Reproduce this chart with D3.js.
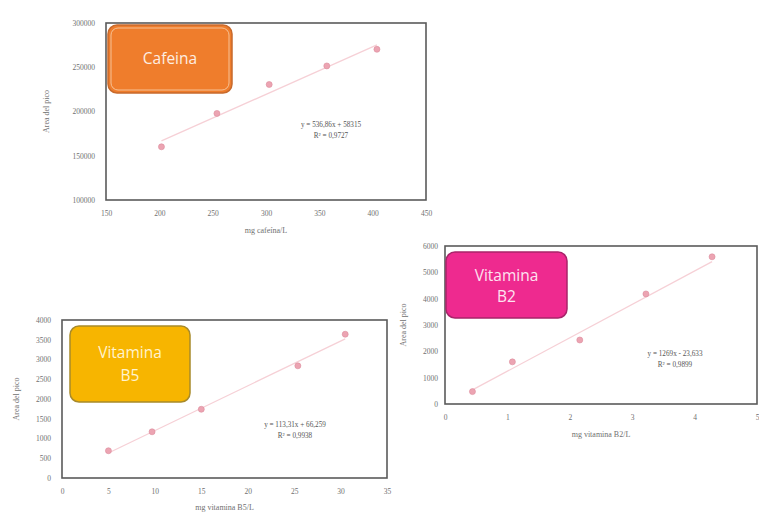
<!DOCTYPE html>
<html>
<head>
<meta charset="utf-8">
<script src="https://cdn.jsdelivr.net/npm/d3@7"></script>
<style>
  body { margin: 0; background: #fff; }
  svg { display: block; }
</style>
</head>
<body>
<svg id="c" width="759" height="513"></svg>
<script>
// ---- Cafeína calibration ----
const cafX = [202, 254, 303, 357, 404];
const cafY = [160100, 197800, 230500, 251500, 270300];
const cafXTicks = [150, 200, 250, 300, 350, 400, 450];
const cafYTicks = [100000, 150000, 200000, 250000, 300000];
const cafFit = [536.86, 58315];
const cafEq = ["y = 536,86x + 58315", "R² = 0,9727"];

// ---- Vitamina B5 calibration ----
const b5X = [5, 9.7, 15, 25.4, 30.5];
const b5Y = [690, 1170, 1740, 2840, 3640];
const b5XTicks = [0, 5, 10, 15, 20, 25, 30, 35];
const b5YTicks = [0, 500, 1000, 1500, 2000, 2500, 3000, 3500, 4000];
const b5Fit = [113.31, 66.259];
const b5Eq = ["y = 113,31x + 66,259", "R² = 0,9938"];

// ---- Vitamina B2 calibration ----
const b2X = [0.44, 1.08, 2.16, 3.22, 4.28];
const b2Y = [470, 1600, 2430, 4180, 5590];
const b2XTicks = [0, 1, 2, 3, 4, 5];
const b2YTicks = [0, 1000, 2000, 3000, 4000, 5000, 6000];
const b2Fit = [1269, -23.633];
const b2Eq = ["y = 1269x - 23,633", "R² = 0,9899"];

const svg = d3.select("#c");
svg.append("rect").attr("width", 759).attr("height", 513).attr("fill", "#fff");

const tickFont = "Liberation Serif, DejaVu Serif, serif";

function drawPanel(p) {
  const g = svg.append("g");
  const x = d3.scaleLinear().domain(d3.extent(p.xTicks)).range([p.left, p.right]);
  const y = d3.scaleLinear().domain(d3.extent(p.yTicks)).range([p.bottom, p.top]);

  // plot area
  g.append("rect")
    .attr("x", p.left).attr("y", p.top)
    .attr("width", p.right - p.left).attr("height", p.bottom - p.top)
    .attr("fill", "#fff").attr("stroke", "#5a5a5a").attr("stroke-width", 1.6);

  // axes (labels only)
  const ax = g.append("g").attr("transform", `translate(0,${p.bottom})`)
    .call(d3.axisBottom(x).tickValues(p.xTicks).tickFormat(d3.format("d")).tickSize(0).tickPadding(p.xPad));
  const ay = g.append("g").attr("transform", `translate(${p.left},0)`)
    .call(d3.axisLeft(y).tickValues(p.yTicks).tickFormat(d3.format("d")).tickSize(0).tickPadding(p.yPad));
  [ax, ay].forEach(a => {
    a.select(".domain").remove();
    a.selectAll("text").attr("font-family", tickFont).attr("font-size", 7.5).attr("fill", "#707070");
  });

  // axis titles
  g.append("text")
    .attr("x", (p.left + p.right) / 2).attr("y", p.xTitleY)
    .attr("text-anchor", "middle").attr("font-family", tickFont).attr("font-size", 8)
    .attr("fill", "#707070").text(p.xTitle);
  g.append("text")
    .attr("transform", `translate(${p.yTitleX},${(p.top + p.bottom) / 2}) rotate(-90)`)
    .attr("text-anchor", "middle").attr("font-family", tickFont).attr("font-size", 8)
    .attr("fill", "#707070").text("Area del pico");

  // linear trendline
  const [m, b] = p.fit;
  const xs = d3.extent(p.xs);
  g.append("line")
    .attr("x1", x(xs[0])).attr("y1", y(m * xs[0] + b))
    .attr("x2", x(xs[1])).attr("y2", y(m * xs[1] + b))
    .attr("stroke", "#f6d0d6").attr("stroke-width", 1.3);

  // data points
  g.selectAll("circle.pt").data(p.xs.map((v, i) => [v, p.ys[i]]))
    .join("circle").attr("class", "pt")
    .attr("cx", d => x(d[0])).attr("cy", d => y(d[1])).attr("r", 3)
    .attr("fill", "#eca4b2").attr("stroke", "#dc8c9c").attr("stroke-width", 0.6);

  // equation
  g.append("text")
    .attr("x", p.eqX).attr("y", p.eqY)
    .attr("text-anchor", "middle").attr("font-family", tickFont).attr("font-size", 7.2)
    .attr("fill", "#555")
    .selectAll("tspan").data(p.eq).join("tspan")
    .attr("x", p.eqX).attr("dy", (d, i) => i === 0 ? 0 : 10.5).text(d => d);

  // label box
  const bx = p.box;
  g.append("rect")
    .attr("x", bx.x).attr("y", bx.y).attr("width", bx.w).attr("height", bx.h)
    .attr("rx", 9).attr("fill", bx.fill).attr("stroke", bx.stroke).attr("stroke-width", 1.5);
  if (bx.inner) {
    g.append("rect")
      .attr("x", bx.x + 3).attr("y", bx.y + 3).attr("width", bx.w - 6).attr("height", bx.h - 6)
      .attr("rx", 7).attr("fill", "none").attr("stroke", bx.inner).attr("stroke-width", 1);
  }
  g.append("text")
    .attr("text-anchor", "middle").attr("font-family", "Open Sans, sans-serif")
    .attr("font-size", bx.size).attr("fill", bx.textFill)
    .selectAll("tspan").data(bx.lines).join("tspan")
    .attr("x", bx.x + bx.w / 2)
    .attr("y", (d, i) => bx.ty + i * bx.lh)
    .text(d => d);
}

drawPanel({
  left: 106, right: 426, top: 23, bottom: 200,
  xTicks: cafXTicks, yTicks: cafYTicks, xs: cafX, ys: cafY,
  fit: cafFit, eq: cafEq, eqX: 331, eqY: 127,
  xPad: 11, yPad: 11, xTitle: "mg cafeína/L", xTitleY: 233, yTitleX: 49,
  box: { x: 108, y: 25, w: 124, h: 68, fill: "#ef7d2c", stroke: "#c86a2c", inner: "#f6c295",
         lines: ["Cafeina"], size: 15.5, ty: 64, lh: 0, textFill: "#fdeee2" }
});

drawPanel({
  left: 62, right: 387, top: 320, bottom: 478,
  xTicks: b5XTicks, yTicks: b5YTicks, xs: b5X, ys: b5Y,
  fit: b5Fit, eq: b5Eq, eqX: 295, eqY: 427,
  xPad: 11, yPad: 11, xTitle: "mg vitamina B5/L", xTitleY: 510, yTitleX: 19,
  box: { x: 70, y: 326, w: 120, h: 76, fill: "#f7b500", stroke: "#a88a2a", inner: null,
         lines: ["Vitamina", "B5"], size: 15.5, ty: 358, lh: 23, textFill: "#fff3cf" }
});

drawPanel({
  left: 445, right: 757, top: 246, bottom: 404,
  xTicks: b2XTicks, yTicks: b2YTicks, xs: b2X, ys: b2Y,
  fit: b2Fit, eq: b2Eq, eqX: 675, eqY: 356,
  xPad: 11, yPad: 7, xTitle: "mg vitamina B2/L", xTitleY: 437, yTitleX: 406,
  box: { x: 446, y: 252, w: 121, h: 66, fill: "#ee2a8f", stroke: "#a8246a", inner: null,
         lines: ["Vitamina", "B2"], size: 15.5, ty: 281, lh: 21, textFill: "#fde3f0" }
});
</script>
</body>
</html>
